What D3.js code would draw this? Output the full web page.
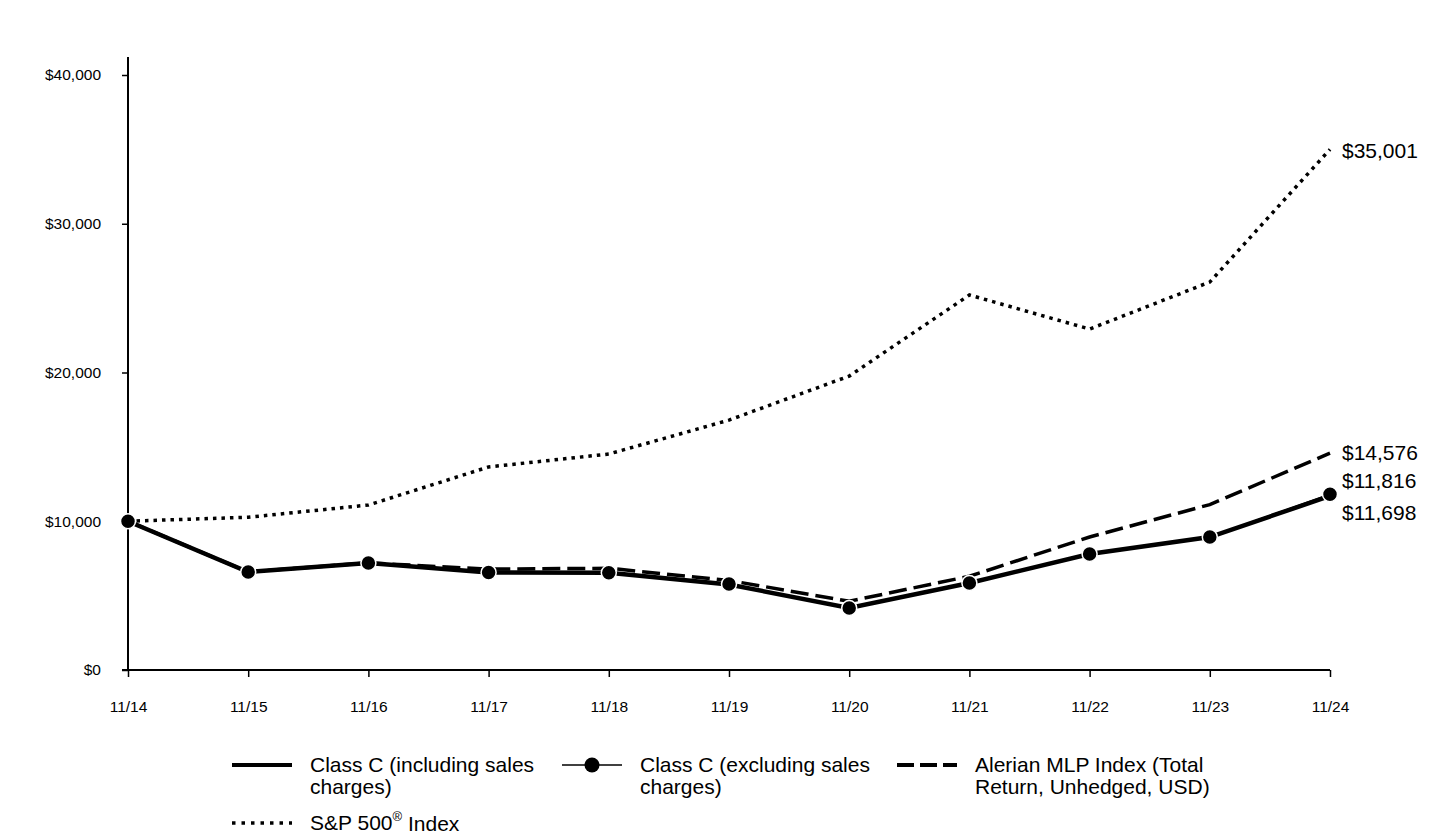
<!DOCTYPE html>
<html><head><meta charset="utf-8">
<script src="https://cdn.jsdelivr.net/npm/d3@7"></script>
<style>body{margin:0;background:#fff}svg{display:block;font-family:"Liberation Sans",Arial,sans-serif}</style>
</head><body>
<svg id="c" width="1440" height="840"></svg>
<script>
const categories = ["11/14","11/15","11/16","11/17","11/18","11/19","11/20","11/21","11/22","11/23","11/24"];
const classCIncl = [10000,6590,7190,6560,6540,5750,4170,5850,7800,8940,11698];
const classCExcl = [10000,6590,7190,6560,6540,5780,4170,5850,7800,8940,11816];
const alerian = [10000,6600,7200,6780,6840,6020,4620,6300,8940,11120,14576];
const sp500 = [10000,10270,11090,13650,14520,16800,19760,25210,22920,26080,35001];
const yTicks = [0,10000,20000,30000,40000];
const endLabels = [
  {text:"$35,001", v:35001},
  {text:"$14,576", v:14576},
  {text:"$11,816", v:11816},
  {text:"$11,698", v:11698}
];

const svg = d3.select("#c");
const x = d3.scalePoint().domain(categories).range([128,1330]);
const y = d3.scaleLinear().domain([0,40000]).range([670,75]);
const fmt = v => "$" + d3.format(",")(v);

// axes
const gy = svg.append("g").attr("transform","translate(128,0)")
  .call(d3.axisLeft(y).tickValues(yTicks).tickFormat(fmt).tickSize(6).tickPadding(21));
gy.select(".domain").remove();
gy.selectAll("line").attr("stroke","#000").attr("stroke-width",1.5);
gy.selectAll("text").attr("font-size",15.5).attr("fill","#000").attr("font-family","Liberation Sans, Arial, sans-serif");
svg.append("line").attr("x1",128).attr("x2",128).attr("y1",57).attr("y2",670).attr("stroke","#000").attr("stroke-width",2);

const gx = svg.append("g").attr("transform","translate(0,670)")
  .call(d3.axisBottom(x).tickSize(7).tickPadding(24));
gx.select(".domain").remove();
gx.selectAll("line").attr("stroke","#000").attr("stroke-width",1.5);
gx.selectAll("text").attr("font-size",15.5).attr("fill","#000").attr("font-family","Liberation Sans, Arial, sans-serif");
svg.append("line").attr("x1",122).attr("x2",1330).attr("y1",670).attr("y2",670).attr("stroke","#000").attr("stroke-width",2);

const line = d3.line().x((d,i)=>x(categories[i])).y(d=>y(d));

svg.append("path").datum(sp500).attr("d",line).attr("fill","none").attr("stroke","#000")
  .attr("stroke-width",3.5).attr("stroke-dasharray","3.5,5");
svg.append("path").datum(alerian).attr("d",line).attr("fill","none").attr("stroke","#000")
  .attr("stroke-width",3.5).attr("stroke-dasharray","18,7");
svg.append("path").datum(classCIncl).attr("d",line).attr("fill","none").attr("stroke","#000")
  .attr("stroke-width",4.5);
svg.append("path").datum(classCExcl).attr("d",line).attr("fill","none").attr("stroke","#000")
  .attr("stroke-width",1.5);
svg.selectAll("circle.m").data(classCExcl).join("circle").attr("class","m")
  .attr("cx",(d,i)=>x(categories[i])).attr("cy",d=>y(d)).attr("r",7.5)
  .attr("fill","#000").attr("stroke","#fff").attr("stroke-width",1.5);

// end labels
const labelY = [151,453,481,513];
svg.selectAll("text.end").data(endLabels).join("text").attr("class","end")
  .attr("x",1342).attr("y",(d,i)=>labelY[i]).attr("dy","0.35em")
  .attr("font-size",21).attr("fill","#000").text(d=>d.text);

// legend
const lg = svg.append("g").attr("font-size",21).attr("fill","#000");
function legText(xp, yp, lines){
  const t = lg.append("text").attr("x",xp).attr("y",yp);
  lines.forEach((l,i)=>t.append("tspan").attr("x",xp).attr("y", yp + i*22).attr("dy","0.35em").text(l));
}
lg.append("line").attr("x1",232).attr("x2",292).attr("y1",765).attr("y2",765).attr("stroke","#000").attr("stroke-width",4);
legText(310,765,["Class C (including sales","charges)"]);
lg.append("line").attr("x1",562).attr("x2",622).attr("y1",765).attr("y2",765).attr("stroke","#000").attr("stroke-width",1.5);
lg.append("circle").attr("cx",592).attr("cy",765).attr("r",7.5).attr("fill","#000");
legText(640,765,["Class C (excluding sales","charges)"]);
lg.append("line").attr("x1",897).attr("x2",957).attr("y1",765).attr("y2",765).attr("stroke","#000").attr("stroke-width",4).attr("stroke-dasharray","17,6");
legText(975,765,["Alerian MLP Index (Total","Return, Unhedged, USD)"]);
lg.append("line").attr("x1",232).attr("x2",292).attr("y1",823).attr("y2",823).attr("stroke","#000").attr("stroke-width",3.5).attr("stroke-dasharray","3.5,6");
const sp = lg.append("text").attr("x",310).attr("y",823).attr("dy","0.35em");
sp.append("tspan").text("S&P 500");
sp.append("tspan").attr("font-size",13).attr("dy","-0.7em").text("®");
sp.append("tspan").attr("dy","0.45em").text(" Index");
</script>
</body></html>
